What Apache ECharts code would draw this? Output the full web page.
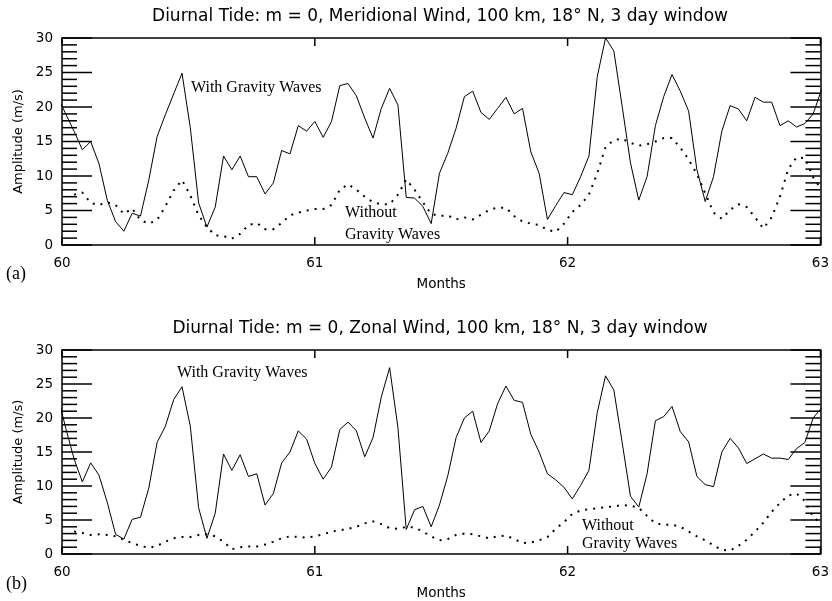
<!DOCTYPE html>
<html><head><meta charset="utf-8">
<script src="https://cdn.jsdelivr.net/npm/echarts@6/dist/echarts.min.js"></script>
<style>html,body{margin:0;padding:0;background:#fff}#c{width:832px;height:601px}</style>
</head><body><div id="c"></div>
<script>
// ---- data ----
const xTickLabels = [60, 61, 62, 63];
const yTickLabels = [0, 5, 10, 15, 20, 25, 30];
const yMinorPerMajor = 5;
const panelTitles = [
  'Diurnal Tide: m = 0, Meridional Wind, 100 km, 18\u00B0 N, 3 day window',
  'Diurnal Tide: m = 0, Zonal Wind, 100 km, 18\u00B0 N, 3 day window'
];
const panelTags = ['(a)', '(b)'];
const xName = 'Months';
const yName = 'Amplitude (m/s)';
const withLabel = 'With Gravity Waves';
const withoutLabel = ['Without', 'Gravity Waves'];

// daily samples; month = 60 + (day + 0.45) / 30.44
const DAYS_PER_MONTH = 30.44;
const DAY_OFFSET = 0.45;
const solidFirstDay = -1;
const dottedFirstDay = 1;

const meridionalWith = [21.5,19.0,16.5,13.8,15.0,11.8,6.5,3.4,2.0,4.6,4.2,9.4,15.7,18.9,21.9,24.9,17.0,6.1,2.6,5.5,12.9,10.9,12.9,9.9,9.9,7.4,9.0,13.7,13.2,17.3,16.5,17.9,15.6,17.9,23.1,23.4,21.6,18.4,15.5,19.8,22.7,20.3,6.9,6.8,5.6,3.1,10.4,13.3,16.9,21.5,22.3,19.2,18.2,19.8,21.4,19.0,19.8,13.5,10.4,3.7,5.7,7.6,7.3,9.9,12.9,24.4,30.0,28.1,20.1,11.9,6.5,9.9,17.3,21.5,24.7,22.3,19.4,10.9,6.3,9.9,16.5,20.2,19.7,18.0,21.4,20.7,20.7,17.3,18.0,17.1,17.6,19.0,22.5];
const meridionalWithout = [7.3,7.6,6.1,5.8,6.2,5.8,4.5,5.3,3.6,3.1,3.6,5.6,7.9,9.4,7.2,4.3,2.6,1.4,1.3,0.9,1.6,2.9,3.2,2.3,2.3,3.2,4.3,4.7,5.0,5.2,5.2,5.8,8.0,8.8,8.0,7.0,6.2,5.9,5.9,7.3,9.5,8.0,6.2,4.5,4.2,4.3,3.7,4.0,3.7,4.4,5.1,5.4,5.4,4.2,3.4,3.1,2.9,2.2,1.9,3.1,4.8,5.8,7.3,10.4,14.2,15.2,15.4,14.8,14.4,14.6,15.0,15.5,15.5,14.1,12.4,10.3,7.5,4.7,3.8,5.1,5.9,5.5,4.0,2.4,4.0,7.0,11.0,12.7,12.6,9.8,8.0];
const zonalWith = [23.5,18.5,14.0,10.6,13.4,11.6,7.6,2.9,2.2,5.1,5.4,9.7,16.4,18.8,22.7,24.6,18.8,6.8,2.3,6.0,14.7,12.3,14.6,11.4,11.8,7.2,8.9,13.4,15.0,18.1,16.9,13.3,11.0,12.8,18.3,19.4,18.1,14.3,17.1,23.1,27.4,18.6,3.6,6.5,7.0,4.0,7.2,11.5,17.1,20.0,21.0,16.4,18.1,22.1,24.7,22.6,22.3,17.6,15.0,11.8,10.9,9.8,8.1,10.1,12.3,20.8,26.2,24.1,16.4,8.5,6.9,11.8,19.6,20.2,21.7,18.0,16.5,11.4,10.2,9.9,15.0,17.0,15.6,13.3,14.0,14.7,14.1,14.1,13.9,15.5,16.4,20.0,21.5];
const zonalWithout = [3.3,3.1,2.8,2.9,2.8,2.6,2.1,1.6,1.2,0.9,1.2,1.8,2.3,2.5,2.5,2.8,2.9,2.6,1.8,0.7,1.0,1.1,1.1,1.4,1.8,2.3,2.6,2.5,2.4,2.6,2.9,3.3,3.5,3.7,4.0,4.5,4.8,4.4,3.8,3.7,4.0,3.9,3.3,2.6,2.0,2.2,2.8,3.0,2.9,2.6,2.3,2.6,2.7,2.2,1.6,1.7,2.0,2.5,3.7,4.7,5.9,6.4,6.6,6.7,6.9,7.0,7.2,7.1,6.8,5.6,4.5,4.3,4.3,4.0,3.3,2.6,2.0,1.3,0.6,0.5,1.2,2.1,3.3,4.6,6.2,7.5,8.6,8.9,7.8,5.4,4.5];

// ---- chart ----
const startMonth = xTickLabels[0];
const xMin = xTickLabels[0], xMax = xTickLabels[xTickLabels.length - 1];
const yMin = yTickLabels[0], yMax = yTickLabels[yTickLabels.length - 1];
function toPairs(vals, firstDay) {
  return vals.map((v, i) => [startMonth + (firstDay + i + DAY_OFFSET) / DAYS_PER_MONTH, v]);
}

const FONT = 'DejaVu Sans';
const SERIF = 'Liberation Serif';
const BLACK = '#000';
const TICK = { yMajor: 30, yMinor: 15, x: 8, width: 1.5 };
const grids = [
  { left: 62, right: 10, top: 38, height: 207 },
  { left: 62, right: 10, top: 350, height: 206 }
];

const xAxes = [], yAxes = [];
grids.forEach((g, gi) => {
  ['bottom', 'top'].forEach(pos => {
    const ax = {
      gridIndex: gi, type: 'value', position: pos, min: xMin, max: xMax, interval: 1,
      axisLine: { show: true, onZero: false, lineStyle: { color: BLACK, width: 1.5 } },
      axisTick: { show: false }, splitLine: { show: false },
      axisLabel: { show: pos === 'bottom', color: BLACK, fontFamily: FONT, fontSize: 13.5, margin: 11 }
    };
    if (pos === 'bottom') {
      ax.name = xName; ax.nameLocation = 'middle'; ax.nameGap = 32;
      ax.nameTextStyle = { color: BLACK, fontFamily: FONT, fontSize: 13.5 };
    }
    xAxes.push(ax);
  });
  ['left', 'right'].forEach(pos => {
    const ax = {
      gridIndex: gi, type: 'value', position: pos, min: yMin, max: yMax, interval: 5,
      axisLine: { show: true, onZero: false, lineStyle: { color: BLACK, width: 1.5 } },
      axisTick: { show: false }, splitLine: { show: false },
      axisLabel: { show: pos === 'left', color: BLACK, fontFamily: FONT, fontSize: 13.5, margin: 9 }
    };
    if (pos === 'left') {
      ax.name = yName; ax.nameLocation = 'middle'; ax.nameGap = 32; ax.nameRotate = 90;
      ax.nameTextStyle = { color: BLACK, fontFamily: FONT, fontSize: 13 };
    }
    yAxes.push(ax);
  });
});

// inward ticks (mirrored on both sides), placed through the axes' own scales
const yMajorStep = yTickLabels[1] - yTickLabels[0];
const yStep = yMajorStep / yMinorPerMajor;
const tickData = [];
for (let v = yMin; v <= yMax + 1e-9; v += yStep) {
  const r = v / yMajorStep;
  const major = Math.abs(r - Math.round(r)) < 1e-6;
  tickData.push([xMin, +v.toFixed(4), 0, major ? TICK.yMajor : TICK.yMinor]);
}
xTickLabels.forEach(v => tickData.push([v, yMin, 1, TICK.x]));

function tickRender(params, api) {
  const cs = params.coordSys;
  const kind = api.value(2), len = api.value(3);
  const pt = api.coord([api.value(0), api.value(1)]);
  const st = { stroke: BLACK, lineWidth: TICK.width };
  if (kind === 0) {
    const y = pt[1];
    return { type: 'group', children: [
      { type: 'line', shape: { x1: cs.x, y1: y, x2: cs.x + len, y2: y }, style: st },
      { type: 'line', shape: { x1: cs.x + cs.width, y1: y, x2: cs.x + cs.width - len, y2: y }, style: st }
    ] };
  }
  const x = pt[0];
  return { type: 'group', children: [
    { type: 'line', shape: { x1: x, y1: cs.y + cs.height, x2: x, y2: cs.y + cs.height - len }, style: st },
    { type: 'line', shape: { x1: x, y1: cs.y, x2: x, y2: cs.y + len }, style: st }
  ] };
}
function ticks(gi) {
  return { type: 'custom', xAxisIndex: gi * 2, yAxisIndex: gi * 2, data: tickData,
    encode: { x: 0, y: 1 }, renderItem: tickRender, silent: true, clip: false, z: 3 };
}

function solid(data, gi) {
  return { type: 'line', xAxisIndex: gi * 2, yAxisIndex: gi * 2, data, symbol: 'none',
    clip: true, silent: true, lineStyle: { color: BLACK, width: 1 } };
}
function dotted(data, gi) {
  return { type: 'line', xAxisIndex: gi * 2, yAxisIndex: gi * 2, data, symbol: 'none',
    clip: true, silent: true, lineStyle: { color: BLACK, width: 2, type: [2, 6], cap: 'butt' } };
}

function txt(x, y, text, font, align) {
  return { type: 'text', x, y, silent: true,
    style: { text, font, fill: BLACK, textAlign: align || 'left', textVerticalAlign: 'middle',
             align: align || 'left', verticalAlign: 'middle' } };
}

const graphics = [
  txt(440, 17, panelTitles[0], '17px "' + FONT + '"', 'center'),
  txt(440, 329, panelTitles[1], '17px "' + FONT + '"', 'center'),
  txt(6, 274, panelTags[0], '18px "' + SERIF + '"'),
  txt(6, 584, panelTags[1], '18px "' + SERIF + '"'),
  txt(191, 88, withLabel, '16px "' + SERIF + '"'),
  txt(345, 213, withoutLabel[0], '16px "' + SERIF + '"'),
  txt(345, 235, withoutLabel[1], '16px "' + SERIF + '"'),
  txt(177, 373, withLabel, '16px "' + SERIF + '"'),
  txt(582, 526, withoutLabel[0], '16px "' + SERIF + '"'),
  txt(582, 544, withoutLabel[1], '16px "' + SERIF + '"')
];

const chart = echarts.init(document.getElementById('c'), null, { renderer: 'canvas' });
chart.setOption({
  animation: false,
  backgroundColor: '#fff',
  grid: grids,
  xAxis: xAxes,
  yAxis: yAxes,
  series: [
    ticks(0), ticks(1),
    solid(toPairs(meridionalWith, solidFirstDay), 0),
    dotted(toPairs(meridionalWithout, dottedFirstDay), 0),
    solid(toPairs(zonalWith, solidFirstDay), 1),
    dotted(toPairs(zonalWithout, dottedFirstDay), 1)
  ],
  graphic: graphics
});
</script></body></html>
